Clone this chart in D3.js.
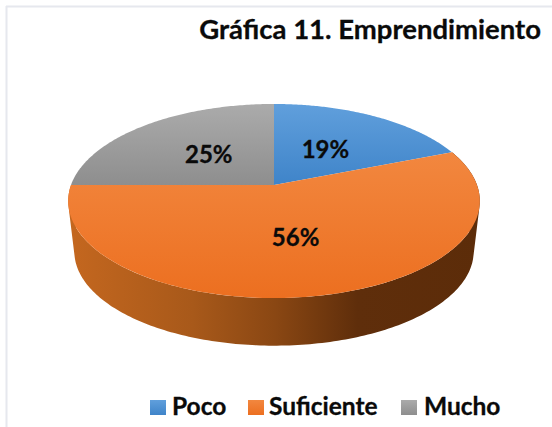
<!DOCTYPE html>
<html><head><meta charset="utf-8">
<script src="https://cdn.jsdelivr.net/npm/d3@7"></script>
<style>html,body{margin:0;padding:0;background:#fff}svg{display:block}text{font-family:Lato,"Open Sans",sans-serif;font-weight:700;fill:#0a0a0a;stroke:#0a0a0a;stroke-width:.3px}</style>
</head><body><svg id="c" width="552" height="427"></svg>
<script>
const titleText = "Gráfica 11. Emprendimiento";
const categories = ["Poco", "Suficiente", "Mucho"];
const values = [19, 56, 25];
const labelRadius = [0.48, 0.52, 0.48];
const topColors = ["#609fdc", "#f2873f", "#ababab"];
const bottomColors = ["#3f84c9", "#ec6f20", "#8e8e8e"];
const sideStops = [[0,"#c4671f"],[0.3,"#a8591a"],[0.5,"#8a4713"],[0.7,"#5f2e0b"],[1,"#5c2c09"]];
const legendSwatchX = [150, 248, 401];
const legendTextX = [172, 269, 424];

const svg = d3.select("#c");
const defs = svg.append("defs");
categories.forEach((c,i)=>{
  const g = defs.append("linearGradient").attr("id","g"+i).attr("x1",0).attr("y1",0).attr("x2",0).attr("y2",1);
  g.append("stop").attr("offset",0).attr("stop-color",topColors[i]);
  g.append("stop").attr("offset",1).attr("stop-color",bottomColors[i]);
});
const sg = defs.append("linearGradient").attr("id","side").attr("gradientUnits","userSpaceOnUse")
  .attr("x1",69).attr("x2",481).attr("y1",0).attr("y2",0);
sideStops.forEach(s=>sg.append("stop").attr("offset",s[0]).attr("stop-color",s[1]));

// frame lines of the original picture
svg.append("line").attr("x1",6).attr("x2",552).attr("y1",6.5).attr("y2",6.5).attr("stroke","#e6e8ee").attr("stroke-width",2);
svg.append("line").attr("x1",6.5).attr("x2",6.5).attr("y1",6).attr("y2",427).attr("stroke","#e6e8ee").attr("stroke-width",2);

// perspective projection of a tilted disc
const cx = 274, cy = 185, A = 203, B = 94.4, k = -0.165;
function project(theta, r=1, s=1, dy=0){
  const x = r*Math.sin(theta), y = -r*Math.cos(theta), d = 1 + k*y;
  return [cx + s*A*x/d, cy + dy + s*B*y/d];
}
const arcs = d3.pie().sort(null).value(d=>d)(values);
const line = d3.line();
const samples = (a0,a1,n)=>d3.range(n+1).map(i=>a0+(a1-a0)*i/n);

// side wall of the visible (front) slice; strips share one orientation so none cancel
const depth = 51, lowS = 0.97;
const front = arcs[1];
const th = samples(front.startAngle, front.endAngle, 200);
let sidePath = "";
for(let i=0;i<th.length-1;i++){
  const q = [project(th[i]),project(th[i+1]),project(th[i+1],1,lowS,depth),project(th[i],1,lowS,depth)];
  if(d3.polygonArea(q)<0) q.reverse();
  sidePath += line(q) + "Z";
}
svg.append("path").attr("d",sidePath).attr("fill","url(#side)");

// top face
svg.selectAll("path.slice").data(arcs).join("path").attr("class","slice")
  .attr("d",d=>line([[cx,cy],...samples(d.startAngle,d.endAngle,120).map(t=>project(t))])+"Z")
  .attr("fill",(d,i)=>`url(#g${i})`);

// labels
svg.selectAll("text.lab").data(arcs).join("text").attr("class","lab")
  .attr("text-anchor","middle").attr("font-size",24).attr("dy","0.35em")
  .attr("x",(d,i)=>project((d.startAngle+d.endAngle)/2,labelRadius[i])[0])
  .attr("y",(d,i)=>project((d.startAngle+d.endAngle)/2,labelRadius[i])[1])
  .text(d=>d.value+"%");

// title
svg.append("text").attr("x",541).attr("y",39).attr("text-anchor","end").attr("font-size",27.5).text(titleText);

// legend
categories.forEach((c,i)=>{
  svg.append("rect").attr("x",legendSwatchX[i]).attr("y",400).attr("width",16).attr("height",15).attr("fill",`url(#g${i})`);
  svg.append("text").attr("x",legendTextX[i]).attr("y",415).attr("font-size",24.5).text(c);
});
</script></body></html>
